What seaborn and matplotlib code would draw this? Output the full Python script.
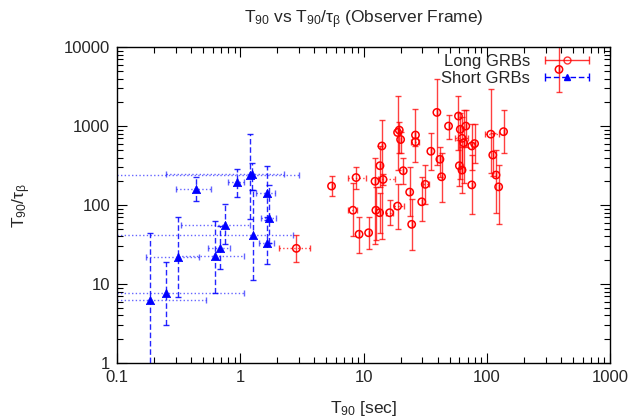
import numpy as np
import seaborn as sns
import matplotlib
matplotlib.use("Agg")
import matplotlib.pyplot as plt
from matplotlib.legend_handler import HandlerErrorbar

sns.set_style("ticks")
plt.rcParams['font.family'] = ['Liberation Sans', 'DejaVu Sans']
plt.rcParams['mathtext.default'] = 'regular'

# short GRBs: T90, T90/tau_beta and the error bounds (absolute values)
short_t90 = [0.186, 0.25, 0.31, 0.44, 0.62, 0.69, 0.75, 0.94, 1.20, 1.25, 1.26, 1.64, 1.71, 1.64]
short_t90_lo = [0.05, 0.05, 0.17, 0.30, 0.31, 0.55, 0.33, 0.80, 0.05, 0.25, 0.05, 1.34, 1.48, 1.43]
short_t90_hi = [0.53, 1.08, 0.46, 0.58, 1.08, 0.83, 1.20, 1.08, 2.97, 2.27, 2.67, 1.90, 1.93, 1.89]
short_ratio = [6.3, 7.8, 22, 162, 22.6, 29, 56, 197, 240, 250, 41.7, 143, 68, 33]
short_ratio_lo = [0.8, 3.0, 6.9, 112, 7.8, 15.4, 32, 127, 67, 155, 11.2, 65, 33, 18]
short_ratio_hi = [44, 19, 70, 225, 63, 55, 103, 290, 790, 340, 155, 311, 180, 71]

# long GRBs
long_t90 = [2.85, 5.5, 8.7, 8.2, 9.2, 11.0, 12.4, 12.6, 13.5, 13.6, 14.1, 14.4, 16.3, 18.9,
            18.9, 19.5, 20, 21, 23.7, 24.6, 26.4, 26.4, 29.7, 31.7, 35.2, 39.4, 41.7, 43,
            49, 59, 61, 63, 60, 63, 65, 67.6, 75.6, 75.6, 79.7, 108, 112, 119, 125, 137, 386]
long_t90_lo = [2.07, 5.5, 7.5, 7.55, 9.2, 11.0, 12.4, 12.6, 13.5, 13.6, 14.1, 13.0, 15.3, 17.8,
               18.9, 19.5, 20, 21, 23.7, 24.6, 26.4, 24.5, 29.7, 30.3, 35.2, 39.4, 41.7, 43,
               49, 59, 61, 55, 60, 63, 65, 67.6, 75.6, 75.6, 79.7, 97, 112, 119, 125, 137, 386]
long_t90_hi = [3.65, 5.5, 10.5, 8.9, 9.2, 11.0, 12.4, 12.6, 13.5, 13.6, 14.1, 18.0, 17.5, 21.5,
               18.9, 19.5, 20, 21, 23.7, 24.6, 26.4, 28.2, 29.7, 34, 35.2, 39.4, 41.7, 43,
               49, 59, 61, 70, 60, 63, 65, 67.6, 75.6, 75.6, 79.7, 126, 112, 119, 125, 137, 386]
long_ratio = [28.3, 174, 223, 86, 42.7, 44.6, 200, 86, 80, 315, 560, 211, 80, 97,
              830, 890, 676, 272, 146, 57, 770, 630, 110, 183, 480, 1490, 380, 228,
              1000, 1340, 910, 700, 315, 277, 614, 1000, 560, 180, 600, 790, 430, 240, 170, 850, 5220]
long_ratio_lo = [18.8, 130, 159, 40, 25, 27.7, 32, 36, 44.6, 170, 37, 180, 56, 50,
                 282, 458, 458, 184, 72, 27, 354, 560, 63, 102, 282, 320, 228, 110,
                 695, 500, 211, 300, 174, 143, 188, 550, 277, 76, 338, 257, 234, 80, 57, 450, 2680]
long_ratio_hi = [42, 233, 305, 188, 71, 71, 400, 170, 143, 560, 1210, 250, 116, 185,
                 2400, 1130, 850, 400, 300, 121, 1670, 700, 228, 320, 810, 4000, 537, 450,
                 1380, 2400, 1480, 1300, 665, 550, 1620, 1590, 1060, 430, 1060, 2950, 822, 500, 320, 1590, 15000]


def errs(v, lo, hi):
    v = np.array(v)
    return np.vstack([v - np.array(lo), np.array(hi) - v])


fig = plt.figure(figsize=(6.4, 4.17), dpi=100)
ax = fig.add_axes([0.183, 0.1295, 0.770, 0.7575])
ax.set_xscale('log')
ax.set_yscale('log')

# long GRBs: solid y bars, dotted x bars
ax.errorbar(long_t90, long_ratio, yerr=errs(long_ratio, long_ratio_lo, long_ratio_hi),
            fmt='none', ecolor='red', elinewidth=1, capsize=2.5, alpha=0.75)
eb = ax.errorbar(long_t90, long_ratio, xerr=errs(long_t90, long_t90_lo, long_t90_hi),
                 fmt='none', ecolor='red', elinewidth=1, capsize=2.5, alpha=0.75)
eb[2][0].set_linestyle(':')

# short GRBs: dashed y bars, dotted x bars
eb = ax.errorbar(short_t90, short_ratio, yerr=errs(short_ratio, short_ratio_lo, short_ratio_hi),
                 fmt='none', ecolor='blue', elinewidth=1, capsize=2.5, alpha=0.85)
eb[2][0].set_linestyle((0, (4, 2)))
eb = ax.errorbar(short_t90, short_ratio, xerr=errs(short_t90, short_t90_lo, short_t90_hi),
                 fmt='none', ecolor='blue', elinewidth=1, capsize=2.5, alpha=0.6)
eb[2][0].set_linestyle(':')

sns.scatterplot(x=long_t90, y=long_ratio, ax=ax, marker='o', s=28,
                facecolor='none', edgecolor='red', linewidth=1.1, zorder=5)
sns.scatterplot(x=short_t90, y=short_ratio, ax=ax, marker='^', s=36,
                color='blue', edgecolor='blue', linewidth=0.5, zorder=5)

# legend proxies (horizontal sample with caps, gnuplot style)
h1 = ax.errorbar([np.nan], [np.nan], xerr=[1], fmt='o', color='red', mfc='none',
                 ms=5, capsize=3, elinewidth=1, alpha=0.8)
h2 = ax.errorbar([np.nan], [np.nan], xerr=[1], fmt='^', color='blue', ms=5,
                 capsize=3, elinewidth=1)
h2[2][0].set_linestyle((0, (4, 2)))
ax.legend([h1, h2], ['Long GRBs', 'Short GRBs'], loc='upper right', frameon=False,
          markerfirst=False, fontsize=12, handlelength=3.6, handletextpad=0.4,
          labelspacing=0.15, borderaxespad=0, bbox_to_anchor=(0.987, 1.0),
          handler_map={h1: HandlerErrorbar(xerr_size=1.3, numpoints=1),
                       h2: HandlerErrorbar(xerr_size=1.3, numpoints=1)})

ax.set_xlim(0.1, 1000)
ax.set_ylim(1, 10000)
ax.set_xticks([0.1, 1, 10, 100, 1000])
ax.set_xticklabels(['0.1', '1', '10', '100', '1000'])
ax.set_yticks([1, 10, 100, 1000, 10000])
ax.set_yticklabels(['1', '10', '100', '1000', '10000'])
ax.tick_params(which='both', direction='in', top=True, right=True, labelsize=12, color='black')
ax.tick_params(which='major', length=7, width=0.8, pad=5)
ax.tick_params(which='minor', length=4, width=0.8)
for s in ax.spines.values():
    s.set_linewidth(1)
    s.set_color('black')

ax.set_xlabel('T$_{90}$ [sec]', fontsize=12.5, labelpad=10)
ax.set_ylabel('T$_{90}$/τ$_{β}$', fontsize=12.5, labelpad=22)
ax.set_title('T$_{90}$ vs T$_{90}$/τ$_{β}$ (Observer Frame)', fontsize=12.5, pad=17)

fig.savefig('out.png', dpi=100)
